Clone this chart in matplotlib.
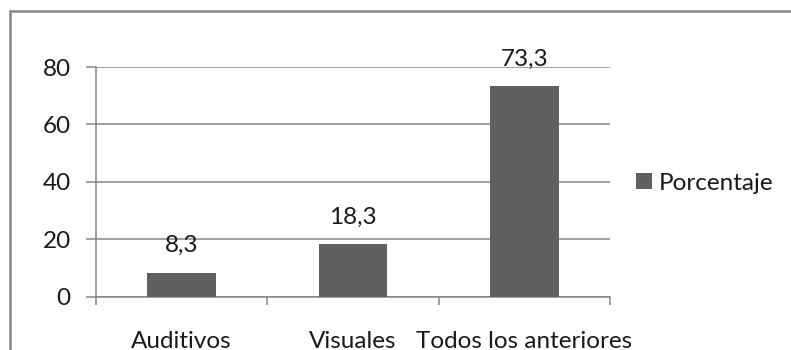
import matplotlib
matplotlib.use("Agg")
import matplotlib.pyplot as plt
from matplotlib.patches import Rectangle

categories = ["Auditivos", "Visuales", "Todos los anteriores"]
values = [8.3, 18.3, 73.3]
series_name = "Porcentaje"
yticks = [0, 20, 40, 60, 80]

plt.rcParams["font.family"] = ["Lato", "DejaVu Sans"]
FS = 17.5
TEXT = "#1a1a1a"
GRID = "#868686"

W, H = 791, 350
fig = plt.figure(figsize=(W / 100, H / 100), dpi=100)

# outer chart frame (runs past the right and bottom edges)
fig.patches.append(Rectangle((10 / W, -0.1), 1.2, 1 - 11 / H + 0.1,
                             transform=fig.transFigure, fill=False,
                             edgecolor="#878787", linewidth=1.8))

left, right = 96 / W, 610 / W
bottom, top = 1 - 296.5 / H, 1 - 67 / H
ax = fig.add_axes([left, bottom, right - left, top - bottom])

x = list(range(len(categories)))
bars = ax.bar(x, values, width=0.4, color="#606060", label=series_name, zorder=3)

ax.set_xlim(-0.5, len(categories) - 0.5)
ax.set_ylim(0, 80)
ax.set_yticks(yticks)
ax.set_yticklabels([str(v) for v in yticks], fontsize=FS, color=TEXT)
ax.yaxis.grid(True, color=GRID, linewidth=1.1, zorder=0)
ax.tick_params(axis="y", length=7.2, color=GRID, width=1.1, pad=11)

# category ticks sit on the boundaries between groups
ax.set_xticks([i - 0.5 for i in range(len(categories) + 1)], minor=False)
ax.set_xticklabels([])
ax.tick_params(axis="x", length=6, color=GRID, width=1.1)
ax.set_xticks(x, minor=True)
ax.set_xticklabels(categories, minor=True, fontsize=FS, color=TEXT)
ax.tick_params(axis="x", which="minor", length=0, pad=24.5)

for s in ["top", "right"]:
    ax.spines[s].set_visible(False)
for s in ["left", "bottom"]:
    ax.spines[s].set_color(GRID)
    ax.spines[s].set_linewidth(1.1)

for xi, v in zip(x, values):
    ax.annotate(f"{v:.1f}".replace(".", ","), (xi, v), xytext=(0, 27),
                textcoords="offset pixels", ha="center", va="center",
                fontsize=FS, color=TEXT, clip_on=False)

leg = fig.legend(handles=[bars], labels=[series_name], loc="center left",
                 bbox_to_anchor=(636 / W, 1 - 183 / H), frameon=False,
                 fontsize=FS, handlelength=0.66, handleheight=0.66,
                 handletextpad=0.28, borderpad=0, borderaxespad=0)
for t in leg.get_texts():
    t.set_color(TEXT)

fig.savefig("out.png", dpi=100)
